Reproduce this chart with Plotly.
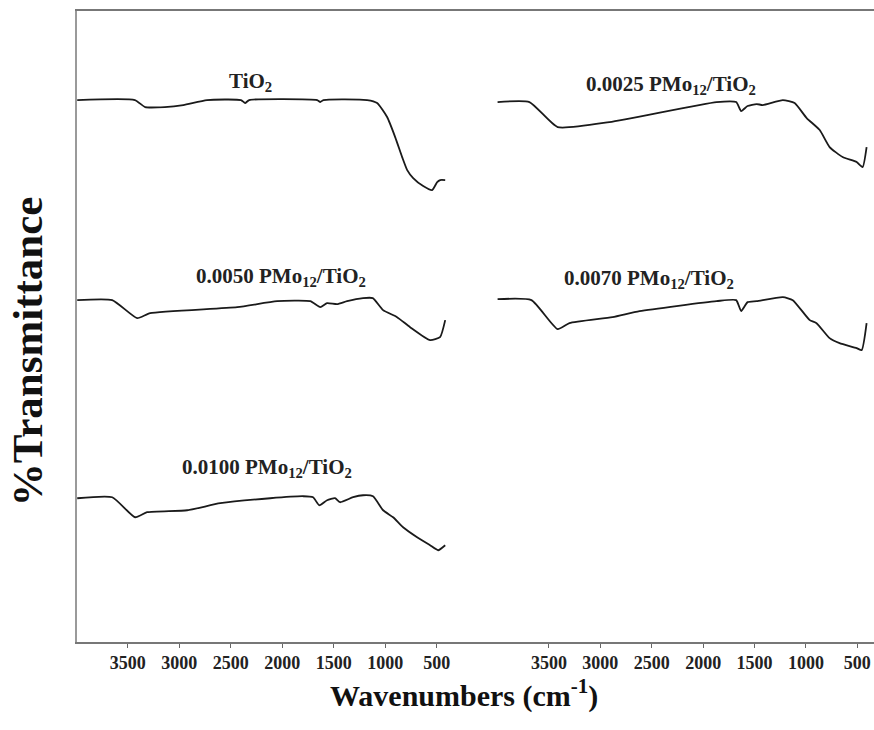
import plotly.graph_objects as go

# FTIR spectra, wavenumber (cm-1) vs. offset transmittance (arbitrary units)
tio2_wn = [3990, 3430, 3330, 3140, 2960, 2730, 2400, 2360, 2320, 1660, 1630, 1600,
           1175, 1078, 981, 903, 835, 786, 728, 631, 544, 495, 466, 417]
tio2_t = [541, 541, 534, 534, 536, 541, 541, 538, 541, 541, 539, 541,
          541, 538, 524, 504, 484, 471, 463, 455, 451, 459, 461, 461]

pmo0025_wn = [4000, 3690, 3416, 2912, 1870, 1679, 1630, 1568, 1480, 1420,
              1225, 1110, 993, 866, 770, 643, 507, 449, 410]
pmo0025_t = [539, 539, 514, 519, 539, 539, 530, 535, 537, 536,
             541, 538, 523, 511, 494, 484, 479, 474, 494]

pmo0050_wn = [3990, 3650, 3408, 3282, 2437, 2049, 1727, 1630, 1564, 1467,
              1370, 1215, 1120, 1020, 884, 758, 564, 467, 417]
pmo0050_t = [341, 341, 323, 328, 334, 340, 340, 334, 338, 337,
             340, 343, 343, 331, 324, 314, 301, 304, 321]

pmo0070_wn = [4000, 3671, 3416, 3301, 2882, 2619, 1870, 1679, 1630, 1568,
              1480, 1225, 1128, 963, 897, 770, 673, 507, 458, 410]
pmo0070_t = [342, 341, 312, 318, 324, 330, 340, 341, 330, 339,
             340, 344, 341, 321, 318, 303, 298, 293, 291, 318]

pmo0100_wn = [3990, 3650, 3428, 3311, 2922, 2601, 2117, 1795, 1700, 1640, 1564,
              1487, 1438, 1311, 1215, 1118, 1020, 923, 826, 690, 564, 486, 417]
pmo0100_t = [143, 144, 124, 129, 131, 138, 143, 145, 144, 136, 141,
             143, 139, 144, 146, 145, 131, 124, 114, 104, 96, 91, 96]

tick_vals = [3500, 3000, 2500, 2000, 1500, 1000, 500]
tick_text = ["3500", "3000", "2500", "2000", "1500", "1000", "500"]

# (x, y, axis, label)
sample_labels = [
    (2303, 559, "x", "TiO<sub>2</sub>"),
    (2313, 556, "x2", "0.0025 PMo<sub>12</sub>/TiO<sub>2</sub>"),
    (2012, 364, "x", "0.0050 PMo<sub>12</sub>/TiO<sub>2</sub>"),
    (2527, 362, "x2", "0.0070 PMo<sub>12</sub>/TiO<sub>2</sub>"),
    (2148, 173, "x", "0.0100 PMo<sub>12</sub>/TiO<sub>2</sub>"),
]

SERIF = "Liberation Serif"
LINE = dict(color="#1a1a1a", width=1.8, shape="spline", smoothing=0.5)

fig = go.Figure()
fig.add_trace(go.Scatter(x=tio2_wn, y=tio2_t, mode="lines", line=LINE, xaxis="x", yaxis="y"))
fig.add_trace(go.Scatter(x=pmo0050_wn, y=pmo0050_t, mode="lines", line=LINE, xaxis="x", yaxis="y"))
fig.add_trace(go.Scatter(x=pmo0100_wn, y=pmo0100_t, mode="lines", line=LINE, xaxis="x", yaxis="y"))
fig.add_trace(go.Scatter(x=pmo0025_wn, y=pmo0025_t, mode="lines", line=LINE, xaxis="x2", yaxis="y"))
fig.add_trace(go.Scatter(x=pmo0070_wn, y=pmo0070_t, mode="lines", line=LINE, xaxis="x2", yaxis="y"))

xcommon = dict(
    tickvals=tick_vals, ticktext=["<b>" + t + "</b>" for t in tick_text],
    ticks="outside", ticklen=4, tickwidth=1, tickcolor="#666",
    showline=True, linecolor="#777", linewidth=1.6, mirror=True,
    showgrid=False, zeroline=False,
    tickfont=dict(family=SERIF, size=18, color="#222"),
    ticklabelstandoff=0,
    anchor="y",
)

annotations = []
for x, y, ax, txt in sample_labels:
    annotations.append(dict(
        x=x, y=y, xref=ax, yref="y", text="<b>" + txt + "</b>", showarrow=False,
        font=dict(family=SERIF, size=21, color="#222"),
        xanchor="center", yanchor="middle",
    ))
annotations.append(dict(
    x=-0.0625, y=0.461, xref="paper", yref="paper", text="<b>%Transmittance</b>",
    textangle=-90, showarrow=False, font=dict(family=SERIF, size=43, color="#111"),
    xanchor="center", yanchor="middle",
))
annotations.append(dict(
    x=0.4856, y=-0.081, xref="paper", yref="paper",
    text="<b>Wavenumbers (cm<sup>-1</sup>)</b>",
    showarrow=False, font=dict(family=SERIF, size=30, color="#111"),
    xanchor="center", yanchor="middle",
))

fig.update_layout(
    width=874, height=730,
    margin=dict(l=77, r=0, t=11, b=88),
    paper_bgcolor="white", plot_bgcolor="white",
    showlegend=False,
    font=dict(family=SERIF),
    xaxis=dict(domain=[0, 0.4956], range=[3992, 157], **xcommon),
    xaxis2=dict(domain=[0.4956, 1], range=[4249, 338], **xcommon),
    yaxis=dict(range=[-0.7, 630], showticklabels=False, ticks="", showgrid=False,
               zeroline=False, showline=True, linecolor="#9a9a9a", linewidth=2,
               anchor="x"),
    annotations=annotations,
)

fig.write_html("out.html")
